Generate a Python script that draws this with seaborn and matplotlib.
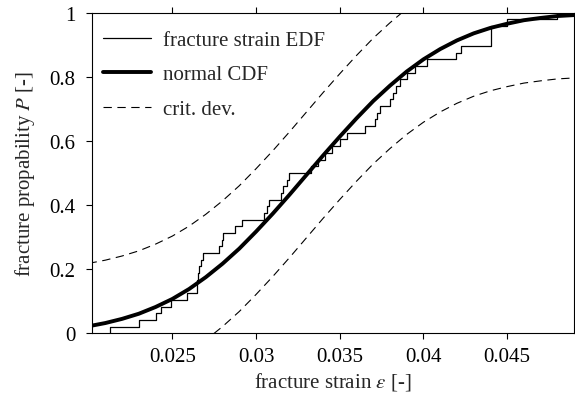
import matplotlib
matplotlib.use("Agg")
import matplotlib.pyplot as plt
import seaborn as sns

# sorted fracture strains of the 48 specimens
strain_samples = [
    0.02128, 0.02303, 0.02403, 0.02431, 0.02494, 0.02586, 0.02648, 0.02649,
    0.02651, 0.02661, 0.02670, 0.02685, 0.02781, 0.02795, 0.02805, 0.02875,
    0.02915, 0.03048, 0.03064, 0.03079, 0.03148, 0.03163, 0.03183, 0.03199,
    0.03329, 0.03372, 0.03412, 0.03452, 0.03502, 0.03542, 0.03651, 0.03711,
    0.03723, 0.03741, 0.03800, 0.03818, 0.03839, 0.03860, 0.03900, 0.03950,
    0.04020, 0.04195, 0.04225, 0.04401, 0.04403, 0.04405, 0.04498, 0.04796,
]

# fitted normal CDF and the critical deviation band, read at 0.001 steps
strain_grid = [
    0.020, 0.021, 0.022, 0.023, 0.024, 0.025, 0.026, 0.027, 0.028, 0.029,
    0.030, 0.031, 0.032, 0.033, 0.034, 0.035, 0.036, 0.037, 0.038, 0.039,
    0.040, 0.041, 0.042, 0.043, 0.044, 0.045, 0.046, 0.047, 0.048, 0.049,
]
cdf_p = [
    0.022, 0.032, 0.045, 0.061, 0.082, 0.107, 0.138, 0.175, 0.217, 0.264,
    0.317, 0.373, 0.432, 0.493, 0.554, 0.613, 0.670, 0.724, 0.772, 0.816,
    0.854, 0.886, 0.913, 0.935, 0.952, 0.965, 0.976, 0.983, 0.989, 0.992,
]
upper_p = [
    0.218, 0.228, 0.241, 0.257, 0.278, 0.303, 0.334, 0.371, 0.413, 0.460,
    0.513, 0.569, 0.628, 0.689, 0.750, 0.809, 0.866, 0.920, 0.968, 1.012,
    1.050, 1.082, 1.109, 1.131, 1.148, 1.161, 1.172, 1.179, 1.185, 1.188,
]
lower_p = [
    -0.174, -0.164, -0.151, -0.135, -0.114, -0.089, -0.058, -0.021, 0.021, 0.068,
    0.121, 0.177, 0.236, 0.297, 0.358, 0.417, 0.474, 0.528, 0.576, 0.620,
    0.658, 0.690, 0.717, 0.739, 0.756, 0.769, 0.780, 0.787, 0.793, 0.796,
]

x_ticks = [0.025, 0.030, 0.035, 0.040, 0.045]
x_ticklabels = ["0.025", "0.03", "0.035", "0.04", "0.045"]
y_ticks = [0, 0.2, 0.4, 0.6, 0.8, 1.0]
y_ticklabels = ["0", "0.2", "0.4", "0.6", "0.8", "1"]

sns.set_style("ticks")
plt.rcParams["font.family"] = ["Liberation Serif", "DejaVu Serif"]
plt.rcParams["mathtext.fontset"] = "stix"
plt.rcParams["axes.linewidth"] = 0.8

fs = 15

fig = plt.figure(figsize=(5.75, 4.02), dpi=100)
ax = fig.add_axes([0.1605, 0.1684, 0.838, 0.798])

dash = (0, (7.5, 5))
sns.ecdfplot(x=strain_samples, ax=ax, color="black", lw=0.9,
             label="fracture strain EDF")
sns.lineplot(x=strain_grid, y=cdf_p, ax=ax, color="black", lw=2.8,
             label="normal CDF")
sns.lineplot(x=strain_grid, y=upper_p, ax=ax, color="black", lw=0.8,
             linestyle=dash, label="crit. dev.")
sns.lineplot(x=strain_grid, y=lower_p, ax=ax, color="black", lw=0.8,
             linestyle=dash)

ax.set_xlim(0.02022, 0.0490)
ax.set_ylim(0, 1)
ax.set_xticks(x_ticks)
ax.set_xticklabels(x_ticklabels)
ax.set_yticks(y_ticks)
ax.set_yticklabels(y_ticklabels)
ax.tick_params(axis="both", direction="out", length=4, width=0.8,
               labelsize=fs, colors="black", top=True, right=True)
ax.tick_params(axis="y", pad=8)
ax.tick_params(axis="x", pad=6)
for side in ax.spines.values():
    side.set_color("black")

ax.set_xlabel(r"fracture strain $\varepsilon$ [-]", fontsize=fs, labelpad=3)
ax.set_ylabel(r"fracture propability $P$ [-]", fontsize=fs, labelpad=9)

ax.legend(loc="upper left", bbox_to_anchor=(-0.015, 1.0), frameon=False,
          fontsize=fs, handlelength=2.3, handletextpad=0.6,
          labelspacing=0.72, borderaxespad=0.45)

fig.savefig("out.png", dpi=100)
